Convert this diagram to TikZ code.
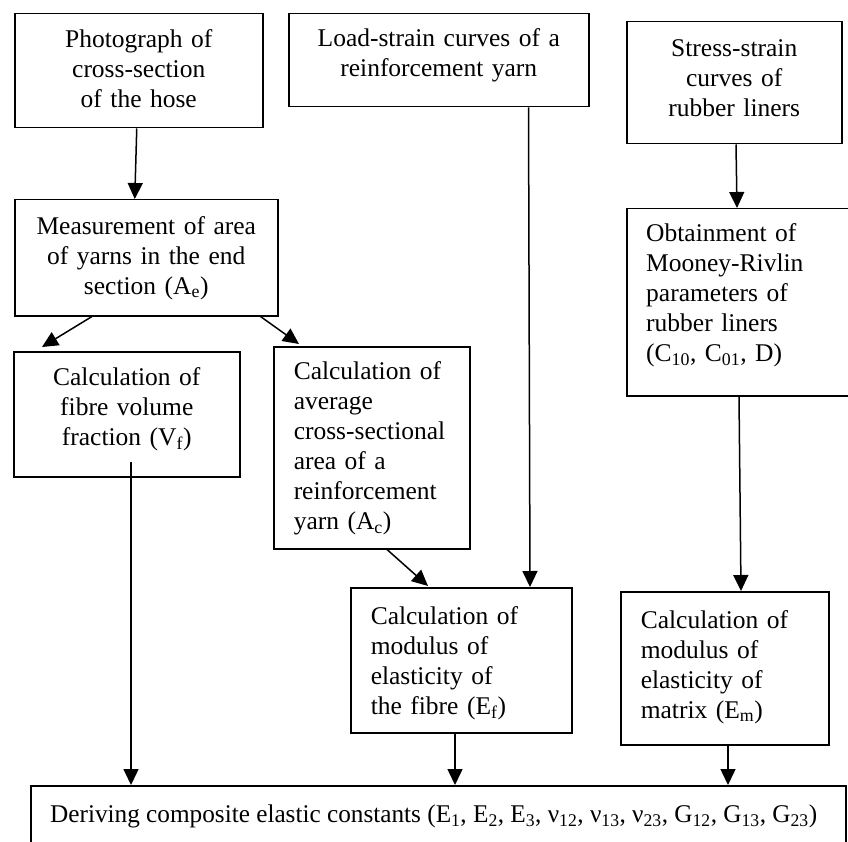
\documentclass[tikz,border=0pt]{standalone}
\usepackage{fontspec}
\usepackage{graphicx}
\setmainfont{Liberation Serif}
\usetikzlibrary{arrows.meta}
\newcommand\boxfont{\fontsize{25.5pt}{30pt}\selectfont}
\tikzset{
  frame/.style={draw, line width=1.5pt, inner sep=0pt, anchor=north west},
  ctext/.style={inner sep=0pt, align=center, font=\boxfont},
  ltext/.style={inner sep=0pt, align=left, font=\boxfont},
  arr/.style={-{Triangle[length=16pt,width=15pt]}, line width=1.5pt}
}
\begin{document}
\begin{tikzpicture}[x=1pt,y=-1pt]
\useasboundingbox (0,0) rectangle (848,842);
\clip (0,0) rectangle (848,842);
% frames
\node[frame, minimum width=248, minimum height=114] (photo) at (14,13) {};
\node[frame, minimum width=300, minimum height=93] (load) at (288,13) {};
\node[frame, minimum width=215, minimum height=122] (stress) at (626,21) {};
\node[frame, minimum width=263, minimum height=116] (meas) at (14,199) {};
\node[frame, minimum width=226, minimum height=125] (vf) at (13,351) {};
\node[frame, minimum width=196, minimum height=202] (ac) at (273,346) {};
\node[frame, minimum width=234, minimum height=187] (mooney) at (626,208) {};
\node[frame, minimum width=221, minimum height=145] (ef) at (350,587) {};
\node[frame, minimum width=208, minimum height=153] (em) at (620,591) {};
\node[frame, minimum width=815, minimum height=62] (der) at (30,785) {};
% texts
\node[ctext, text width=240] (photoT) at ([yshift=2.5pt]photo.center)
  {Photograph of\\cross-section\\of the hose};
\node[ctext, text width=292] (loadT) at ([yshift=4.5pt]load.center)
  {Load-strain curves of a\\reinforcement yarn};
\node[ctext, text width=207] (stressT) at ([yshift=4.5pt]stress.center)
  {Stress-strain\\curves of\\rubber liners};
\node[ctext, text width=255] (measT) at (meas.center)
  {Measurement of area\\of yarns in the end\\section (A\textsubscript{e})};
\node[ctext, text width=218] (vfT) at ([yshift=5.5pt]vf.center)
  {Calculation of\\fibre volume\\fraction (V\textsubscript{f})};
\node[ltext, text width=156] (acT) at ([yshift=-1pt]ac.center)
  {Calculation of\\average\\cross-sectional\\area of a\\reinforcement\\yarn (A\textsubscript{c})};
\node[ltext, text width=194, anchor=west] (mooneyT) at ([xshift=20pt,yshift=7pt]mooney.west)
  {Obtainment of\\Mooney-Rivlin\\parameters of\\rubber liners\\(C\textsubscript{10}, C\textsubscript{01}, D)};
\node[ltext, text width=181] (efT) at ([yshift=-3pt]ef.center)
  {Calculation of\\modulus of\\elasticity of\\the fibre (E\textsubscript{f})};
\node[ltext, text width=168] (emT) at ([yshift=1.5pt]em.center)
  {Calculation of\\modulus of\\elasticity of\\matrix (E\textsubscript{m})};
\node[ltext, anchor=west] (derT) at ([xshift=20pt]der.west)
  {\resizebox{767pt}{\height}{Deriving composite elastic constants (E\textsubscript{1}, E\textsubscript{2}, E\textsubscript{3}, ν\textsubscript{12}, ν\textsubscript{13}, ν\textsubscript{23}, G\textsubscript{12}, G\textsubscript{13}, G\textsubscript{23})}};
% connectors
\coordinate (vfstart) at (131,462);
\draw[arr] ([xshift=-2pt]photo.south) -- ([xshift=-11.5pt]meas.north);
\draw[arr] ([xshift=78pt]meas.south west) -- ([xshift=29pt,yshift=4pt]vf.north west);
\draw[arr] ([xshift=-18pt]meas.south east) -- ([xshift=26pt,yshift=2pt]ac.north west);
\draw[arr] ([xshift=-61pt]load.south east) -- ([xshift=180pt]ef.north west);
\draw[arr] ([xshift=114pt]ac.south west) -- ([xshift=78pt,yshift=1pt]ef.north west);
\draw[arr] ([xshift=110pt]stress.south west) -- ([xshift=111pt]mooney.north west);
\draw[arr] ([xshift=113pt]mooney.south west) -- ([xshift=121pt]em.north west);
\draw[arr] (vfstart) -- (vfstart |- der.north);
\draw[arr] ([xshift=105pt]ef.south west) -- ([xshift=425pt]der.north west);
\draw[arr] ([xshift=108pt]em.south west) -- ([xshift=698pt]der.north west);
\end{tikzpicture}
\end{document}
